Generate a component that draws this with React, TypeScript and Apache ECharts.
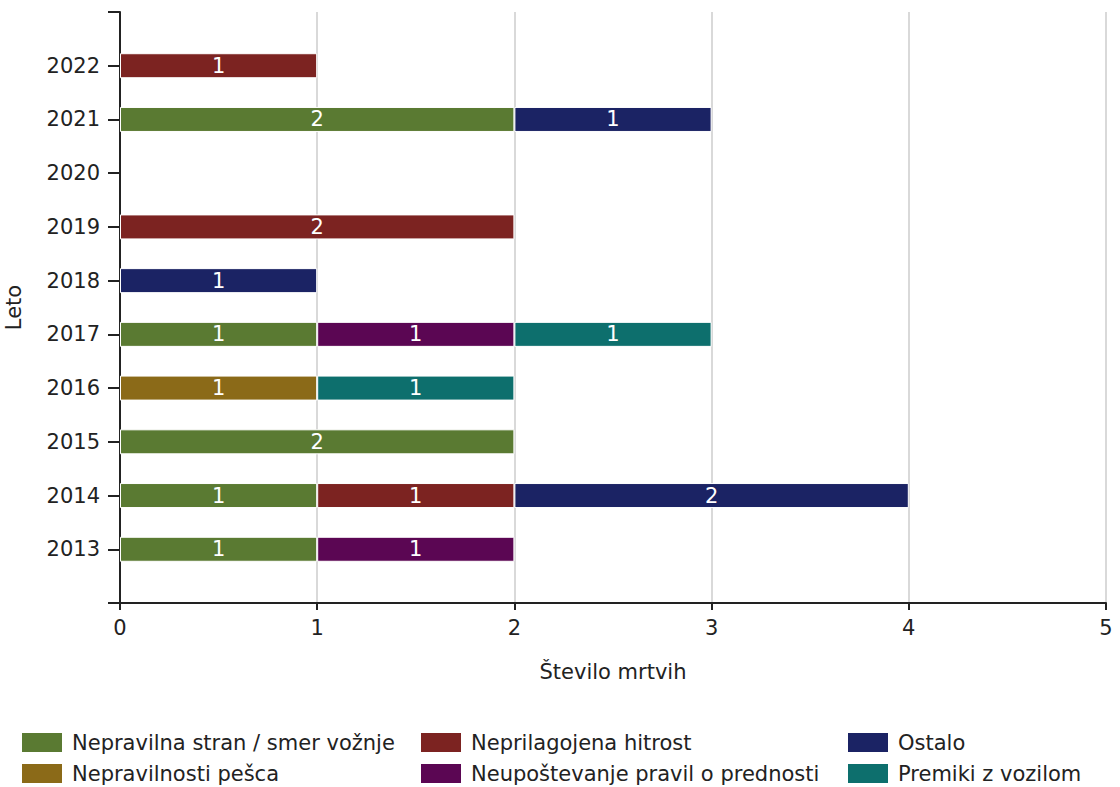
import React, { useEffect, useRef } from "react";
import * as echarts from "echarts";

const years = ["", "2013", "2014", "2015", "2016", "2017", "2018", "2019", "2020", "2021", "2022", ""];
const seriesNames = [
  "Nepravilna stran / smer vožnje",
  "Nepravilnosti pešca",
  "Neprilagojena hitrost",
  "Neupoštevanje pravil o prednosti",
  "Ostalo",
  "Premiki z vozilom",
];
const colors = ["#5a7a32", "#8b6a18", "#7c2321", "#5b0653", "#1b2364", "#0d6f6d"];
const greenVals = [null, 1, 1, 2, null, 1, null, null, null, 2, null, null];
const brownVals = [null, null, null, null, 1, null, null, null, null, null, null, null];
const redVals = [null, null, 1, null, null, null, null, 2, null, null, 1, null];
const purpleVals = [null, 1, null, null, null, 1, null, null, null, null, null, null];
const navyVals = [null, null, 2, null, null, null, 1, null, null, 1, null, null];
const tealVals = [null, null, null, null, 1, 1, null, null, null, null, null, null];
const allVals = [greenVals, brownVals, redVals, purpleVals, navyVals, tealVals];

const FONT = "'DejaVu Sans', sans-serif";
const FS = 21;

export default function App() {
  const ref = useRef<HTMLDivElement>(null);
  useEffect(() => {
    if (!ref.current) return;
    const chart = echarts.init(ref.current, null, { renderer: "svg" });
    const legendCols = [22, 421, 848];
    const legendRows = [742, 773];
    const graphic: any[] = [];
    seriesNames.forEach((name, i) => {
      const col = Math.floor(i / 2);
      const row = i % 2;
      graphic.push({
        type: "rect",
        shape: { x: legendCols[col], y: legendRows[row] - 9, width: 40, height: 19 },
        style: { fill: colors[i] },
      });
      graphic.push({
        type: "text",
        x: legendCols[col] + 50,
        y: legendRows[row] + 1,
        style: { text: name, fill: "#222", font: `${FS}px ${FONT}`, textVerticalAlign: "middle" },
      });
    });
    chart.setOption({
      animation: false,
      grid: { left: 120, right: 14, top: 12, bottom: 184, containLabel: false, outerBoundsMode: "none" },
      xAxis: {
        type: "value",
        min: 0,
        max: 5,
        interval: 1,
        name: "Število mrtvih",
        nameLocation: "middle",
        nameGap: 58,
        nameTextStyle: { fontFamily: FONT, fontSize: FS, color: "#222" },
        axisLine: { show: true, lineStyle: { color: "#222", width: 2 } },
        axisTick: { show: true, length: 7, lineStyle: { color: "#222", width: 2 } },
        axisLabel: { fontFamily: FONT, fontSize: FS, color: "#222", margin: 14 },
        splitLine: { show: true, lineStyle: { color: "#d9d9d9", width: 2 } },
      },
      yAxis: {
        type: "category",
        data: years,
        boundaryGap: false,
        name: "Leto",
        nameLocation: "middle",
        nameGap: 96,
        nameRotate: 90,
        nameTextStyle: { fontFamily: FONT, fontSize: FS, color: "#222" },
        axisLine: { show: true, lineStyle: { color: "#222", width: 2 } },
        axisTick: { show: true, length: 12, alignWithLabel: true, lineStyle: { color: "#222", width: 2 } },
        axisLabel: { fontFamily: FONT, fontSize: FS, color: "#222", margin: 20, interval: 0 },
        splitLine: { show: false },
      },
      graphic,
      series: seriesNames.map((name, i) => ({
        name,
        type: "bar",
        stack: "total",
        barWidth: 25,
        data: allVals[i],
        itemStyle: { color: colors[i], borderColor: "#ffffff", borderWidth: 1 },
        label: {
          show: true,
          position: "inside",
          color: "#ffffff",
          fontFamily: FONT,
          fontSize: FS,
        },
      })),
    });
    return () => chart.dispose();
  }, []);
  return <div ref={ref} style={{ width: 1120, height: 787, position: "absolute", left: 0, top: 0 }} />;
}
